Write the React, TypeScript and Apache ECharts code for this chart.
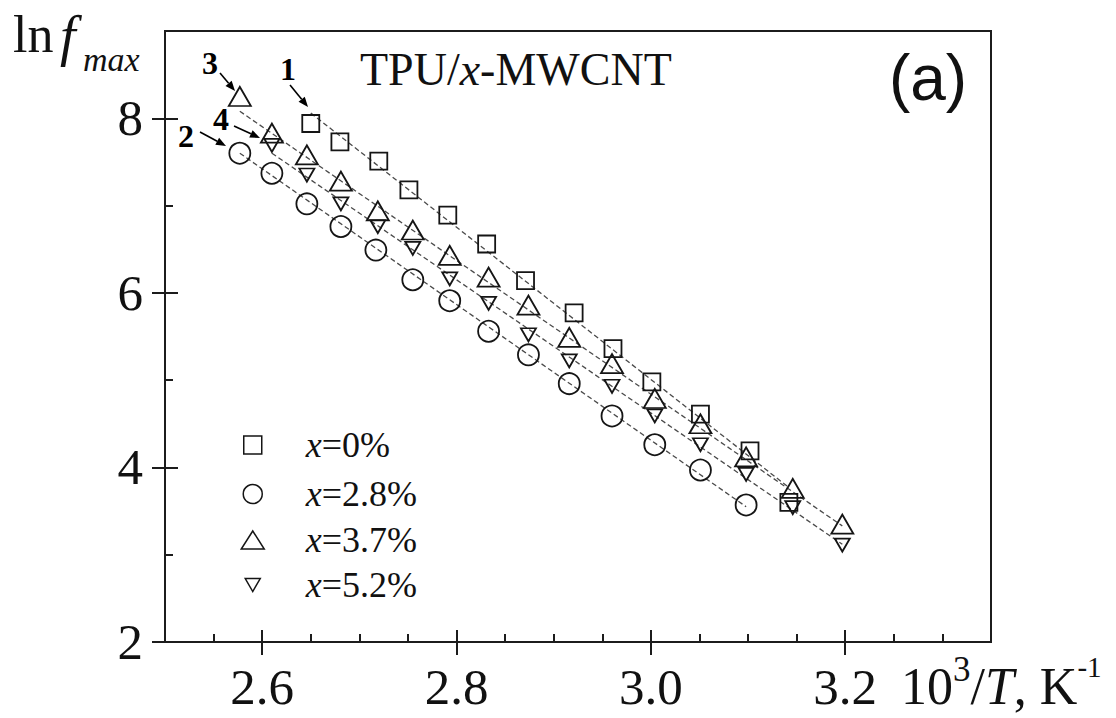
import React, { useEffect, useRef } from "react";
import * as echarts from "echarts";

// ---------- data ----------
const seriesNames = ["x=0%", "x=2.8%", "x=3.7%", "x=5.2%"];

const invT0 = [2.650, 2.680, 2.720, 2.751, 2.791, 2.831, 2.871, 2.921, 2.961, 3.001, 3.051, 3.102, 3.142];
const lnF0 = [7.94, 7.73, 7.51, 7.18, 6.89, 6.56, 6.14, 5.77, 5.36, 4.98, 4.61, 4.19, 3.60];

const invT1 = [2.577, 2.610, 2.646, 2.681, 2.717, 2.755, 2.793, 2.833, 2.874, 2.916, 2.960, 3.004, 3.051, 3.098];
const lnF1 = [7.60, 7.37, 7.02, 6.76, 6.49, 6.15, 5.91, 5.56, 5.29, 4.96, 4.59, 4.26, 3.97, 3.57];

const invT2 = [2.577, 2.610, 2.646, 2.681, 2.719, 2.755, 2.793, 2.833, 2.874, 2.916, 2.960, 3.004, 3.051, 3.098, 3.146, 3.197];
const lnF2 = [8.25, 7.83, 7.58, 7.28, 6.94, 6.72, 6.43, 6.18, 5.86, 5.49, 5.19, 4.79, 4.50, 4.12, 3.76, 3.35];

const invT3 = [2.610, 2.646, 2.681, 2.719, 2.755, 2.793, 2.833, 2.874, 2.916, 2.960, 3.004, 3.051, 3.098, 3.146, 3.197];
const lnF3 = [7.69, 7.35, 7.02, 6.76, 6.51, 6.16, 5.88, 5.52, 5.22, 4.93, 4.59, 4.26, 3.92, 3.54, 3.11];

// dashed linear-fit lines: end points
const fitLine0 = [[2.650, 8.06], [3.142, 3.77]];
const fitLine1 = [[2.577, 7.60], [3.098, 3.55]];
const fitLine2 = [[2.577, 8.08], [3.197, 3.33]];
const fitLine3 = [[2.610, 7.60], [3.197, 3.12]];

// axis ticks
const xMajorTicks = [2.6, 2.8, 3.0, 3.2];
const xMinorTicks = [2.55, 2.65, 2.7, 2.75, 2.85, 2.9, 2.95, 3.05, 3.1, 3.15, 3.25, 3.3];
const yMajorTicks = [2, 4, 6, 8];
const yMinorTicks = [3, 5, 7];

// curve labels
const curveLabels = ["1", "2", "3", "4"];

// ---------- styling ----------
const SERIF = '"Liberation Serif", "Times New Roman", Times, serif';
const SANS = '"Liberation Sans", Arial, Helvetica, sans-serif';
const AX = "#1c1c1c";
const TXT = "#111111";
const MARK = "#151515";

const xs = [invT0, invT1, invT2, invT3];
const ys = [lnF0, lnF1, lnF2, lnF3];
const fits = [fitLine0, fitLine1, fitLine2, fitLine3];
const symbols = ["rect", "circle", "triangle", "path://M0,0L10,0L5,8.7Z"];
const symbolSizes: any[] = [17, 21, [22, 19], [15, 13]];

// legend layout (style only)
const legendLayout = [
  { cy: 445, w: 18, h: 18 },
  { cy: 494, w: 19, h: 19 },
  { cy: 540, w: 23, h: 18 },
  { cy: 585, w: 15, h: 13 },
];
const legendSymbolX = 252;
const legendTextX = 305;

// annotation layout (style only)
const labelPos = [
  [288, 69],
  [186, 136],
  [210, 63],
  [221, 119],
];
const arrowPos = [
  [290, 85, 308, 107],
  [200, 132, 226, 146],
  [220, 73, 235, 91],
  [234, 126, 260, 138],
];

function arrow(x1: number, y1: number, x2: number, y2: number) {
  const L = 10;
  const W = 4;
  const dx = x2 - x1;
  const dy = y2 - y1;
  const len = Math.sqrt(dx * dx + dy * dy);
  const ux = dx / len;
  const uy = dy / len;
  const bx = x2 - ux * L;
  const by = y2 - uy * L;
  return [
    {
      type: "line",
      silent: true,
      shape: { x1, y1, x2: bx, y2: by },
      style: { stroke: "#000", lineWidth: 1.6 },
    },
    {
      type: "polygon",
      silent: true,
      shape: {
        points: [
          [x2, y2],
          [bx - uy * W, by + ux * W],
          [bx + uy * W, by - ux * W],
        ],
      },
      style: { fill: "#000" },
    },
  ];
}

function buildOption(): any {
  const tickLine = { color: AX, width: 2 };
  const common = { type: "value", min: 2.5, max: 3.35, position: "bottom", splitLine: { show: false } };
  const commonY = { type: "value", min: 2, max: 9, position: "left", splitLine: { show: false } };

  const scatter = seriesNames.map((name, i) => ({
    type: "scatter",
    name,
    data: xs[i].map((x, j) => [x, ys[i][j]]),
    symbol: symbols[i],
    symbolSize: symbolSizes[i],
    itemStyle: { color: "rgba(255,255,255,0)", borderColor: MARK, borderWidth: 1.8, opacity: 1 },
    emphasis: { disabled: true },
    z: 3,
  }));

  const lines = fits.map((f, i) => ({
    type: "line",
    name: "fit" + i,
    data: f,
    showSymbol: false,
    symbol: "none",
    silent: true,
    lineStyle: { color: "#4a4a4a", width: 1.3, type: [5, 3] },
    emphasis: { disabled: true },
    z: 2,
  }));

  const legends = seriesNames.map((name, i) => {
    const l = legendLayout[i];
    const spacer = legendTextX - legendSymbolX - l.w / 2 - 5;
    return {
      data: [name],
      orient: "vertical",
      left: legendSymbolX - l.w / 2,
      top: l.cy - 20,
      padding: 0,
      itemWidth: l.w,
      itemHeight: l.h,
      symbolKeepAspect: false,
      selectedMode: false,
      itemStyle: { opacity: 1, borderWidth: 1.5 },
      formatter: (n: string) => `{s| }{i|x}{r|${n.slice(1)}}`,
      textStyle: {
        fontSize: 36,
        fontFamily: SERIF,
        color: TXT,
        lineHeight: 40,
        rich: {
          s: { width: spacer, fontSize: 10, lineHeight: 40 },
          i: { fontStyle: "italic", fontSize: 36, fontFamily: SERIF, color: TXT, lineHeight: 40 },
          r: { fontSize: 36, fontFamily: SERIF, color: TXT, lineHeight: 40 },
        },
      },
    };
  });

  const texts: any[] = [
    { type: "text", x: 13, y: 34, silent: true, style: { text: "ln", fontSize: 52, fontFamily: SERIF, fill: TXT, align: "left", verticalAlign: "middle" } },
    { type: "text", x: 60, y: 36, silent: true, style: { text: "f", fontSize: 56, fontStyle: "italic", fontFamily: SERIF, fill: TXT, align: "left", verticalAlign: "middle" } },
    { type: "text", x: 83, y: 59, silent: true, style: { text: "max", fontSize: 34, fontStyle: "italic", fontFamily: SERIF, fill: TXT, align: "left", verticalAlign: "middle" } },
    {
      type: "text",
      x: 360,
      y: 69,
      silent: true,
      style: {
        text: "{n|TPU/}{i|x}{n|-MWCNT}",
        align: "left",
        verticalAlign: "middle",
        rich: {
          n: { fontSize: 46, fontFamily: SERIF, fill: TXT, lineHeight: 50 },
          i: { fontSize: 46, fontFamily: SERIF, fontStyle: "italic", fill: TXT, lineHeight: 50 },
        },
      },
    },
    { type: "text", x: 928, y: 78, silent: true, style: { text: "(a)", fontSize: 64, fontFamily: SANS, fill: TXT, align: "center", verticalAlign: "middle" } },
    {
      type: "text",
      x: 901,
      y: 682,
      silent: true,
      style: {
        text: "{n|10}{s|3}{n|/}{i|T}{n|, K}{t|-1}",
        align: "left",
        verticalAlign: "middle",
        rich: {
          n: { fontSize: 52, fontFamily: SERIF, fill: TXT, lineHeight: 60, verticalAlign: "bottom" },
          i: { fontSize: 52, fontFamily: SERIF, fontStyle: "italic", fill: TXT, lineHeight: 60, verticalAlign: "bottom" },
          s: { fontSize: 35, fontFamily: SERIF, fill: TXT, lineHeight: 14, verticalAlign: "top" },
          t: { fontSize: 29, fontFamily: SERIF, fill: TXT, lineHeight: 16, verticalAlign: "top" },
        },
      },
    },
  ];

  curveLabels.forEach((t, i) => {
    texts.push({
      type: "text",
      x: labelPos[i][0],
      y: labelPos[i][1],
      silent: true,
      style: { text: t, fontSize: 32, fontWeight: "bold", fontFamily: SERIF, fill: "#000", align: "center", verticalAlign: "middle" },
    });
    const a = arrowPos[i];
    texts.push(...arrow(a[0], a[1], a[2], a[3]));
  });

  return {
    animation: false,
    backgroundColor: "#ffffff",
    grid: {
      left: 165,
      right: 125,
      top: 31,
      bottom: 76,
      show: true,
      borderColor: AX,
      borderWidth: 2,
      backgroundColor: "rgba(0,0,0,0)",
      containLabel: false,
    },
    xAxis: [
      {
        ...common,
        axisLine: { show: true, onZero: false, lineStyle: tickLine },
        axisTick: { show: true, customValues: xMajorTicks, inside: false, length: 13, lineStyle: tickLine },
        axisLabel: {
          show: true,
          customValues: xMajorTicks,
          formatter: (v: number) => v.toFixed(1),
          margin: 19,
          fontSize: 51,
          fontFamily: SERIF,
          color: TXT,
        },
      },
      {
        ...common,
        axisLine: { show: false, onZero: false },
        axisTick: { show: true, customValues: xMajorTicks, inside: true, length: 12, lineStyle: tickLine },
        axisLabel: { show: false },
      },
      {
        ...common,
        axisLine: { show: false, onZero: false },
        axisTick: { show: true, customValues: xMinorTicks, inside: true, length: 8, lineStyle: tickLine },
        axisLabel: { show: false },
      },
    ],
    yAxis: [
      {
        ...commonY,
        axisLine: { show: true, onZero: false, lineStyle: tickLine },
        axisTick: { show: true, customValues: yMajorTicks, inside: false, length: 13, lineStyle: tickLine },
        axisLabel: {
          show: true,
          customValues: yMajorTicks,
          formatter: (v: number) => String(v),
          margin: 22,
          fontSize: 51,
          fontFamily: SERIF,
          color: TXT,
        },
      },
      {
        ...commonY,
        axisLine: { show: false, onZero: false },
        axisTick: { show: true, customValues: yMajorTicks, inside: true, length: 13, lineStyle: tickLine },
        axisLabel: { show: false },
      },
      {
        ...commonY,
        axisLine: { show: false, onZero: false },
        axisTick: { show: true, customValues: yMinorTicks, inside: true, length: 8, lineStyle: tickLine },
        axisLabel: { show: false },
      },
    ],
    legend: legends,
    series: [...lines, ...scatter],
    graphic: texts,
  };
}

export default function App() {
  const ref = useRef<HTMLDivElement>(null);
  useEffect(() => {
    if (!ref.current) return;
    const chart = echarts.init(ref.current, null, { renderer: "svg" });
    chart.setOption(buildOption());
    return () => chart.dispose();
  }, []);
  return (
    <div
      ref={ref}
      style={{ position: "fixed", left: 0, top: 0, width: 1116, height: 718, background: "#fff" }}
    />
  );
}
